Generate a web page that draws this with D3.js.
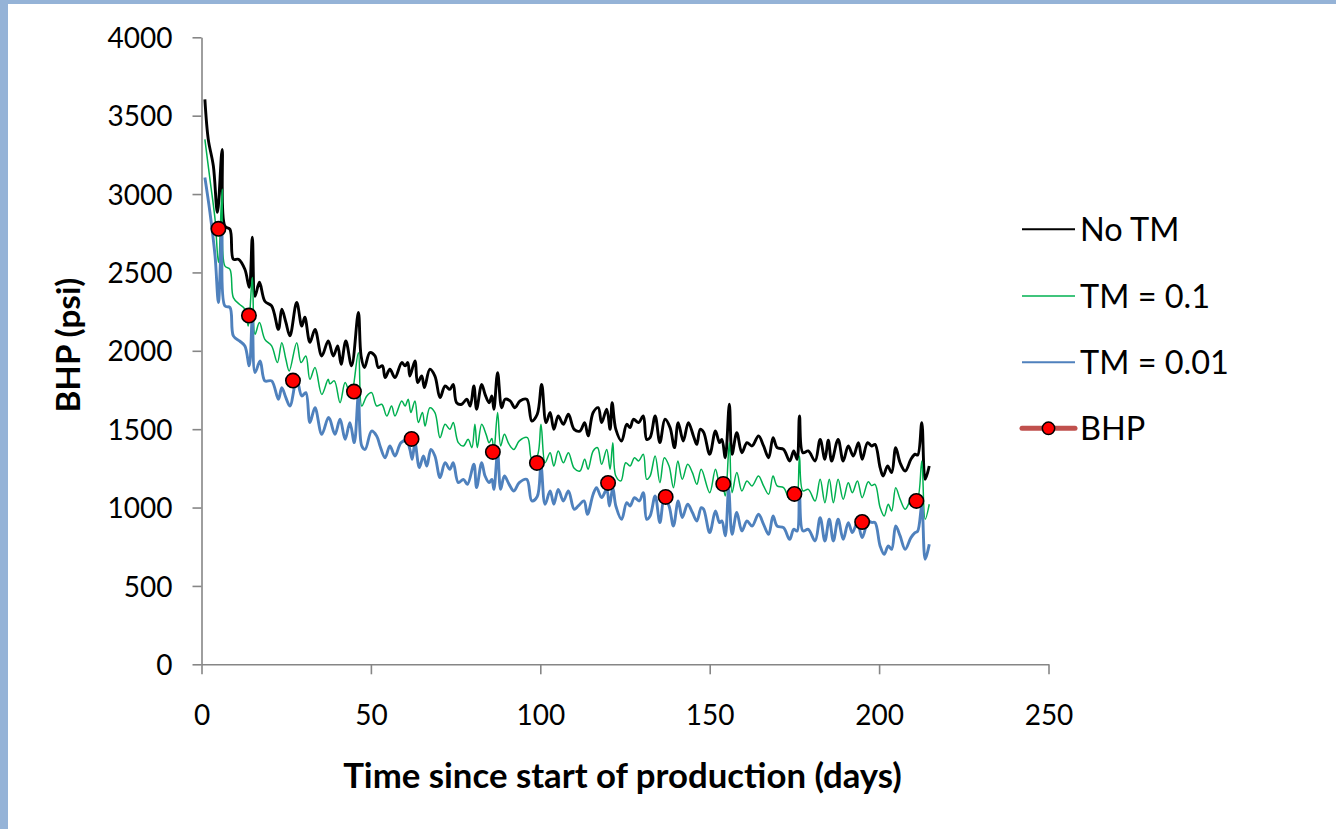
<!DOCTYPE html>
<html><head><meta charset="utf-8">
<script src="https://cdn.jsdelivr.net/npm/d3@7"></script>
<style>html,body{margin:0;padding:0;background:#fff;} svg{display:block;}</style>
</head><body>
<svg id="c" width="1336" height="829"></svg>
<script>
// ---------- data ----------
const xTicks = [0, 50, 100, 150, 200, 250];
const yTicks = [0, 500, 1000, 1500, 2000, 2500, 3000, 3500, 4000];
const seriesNames = ["No TM", "TM = 0.1", "TM = 0.01", "BHP"];
const xTitle = "Time since start of production (days)";
const yTitle = "BHP (psi)";

// [day, psi]
const noTM = [[1.0,3604],[2.0,3349],[3.5,3179],[4.7,2883],[6.1,3285],[6.9,2796],[8.4,2775],[9.4,2584],[10.9,2584],[12.8,2520],[14.1,2405],[15.0,2725],[15.8,2348],[17.1,2437],[18.7,2316],[20.7,2286],[22.7,2137],[23.7,2265],[24.9,2182],[26.1,2095],[28.1,2309],[29.6,2158],[30.5,2214],[32.0,2054],[33.5,2137],[35.5,1967],[37.4,2063],
[38.9,1967],[40.2,2031],[41.2,1914],[42.6,2063],[44.3,1904],[46.3,2244],[47.1,1967],[48.1,1893],[49.7,1988],[51.2,1967],[52.2,1893],[53.4,1904],[54.2,1829],[55.6,1882],[57.1,1829],[59.1,1925],[60.1,1904],[60.9,1925],[61.5,1839],[63.0,1935],[63.8,1797],[65.0,1839],[65.8,1765],[67.4,1882],[68.9,1839],[70.4,1701],[71.9,1776],[73.3,1754],
[74.3,1786],[75.3,1669],[76.8,1659],[78.3,1691],[79.3,1648],[80.4,1776],[81.2,1627],[82.7,1786],[83.7,1722],[84.9,1669],[85.7,1712],[86.3,1627],[87.4,1861],[88.6,1637],[89.6,1691],[91.1,1680],[92.5,1637],[94.0,1680],[96.0,1691],[97.5,1552],[99.1,1595],[100.4,1786],[101.7,1542],[102.9,1606],[104.0,1499],[105.3,1584],[106.8,1531],[108.3,1595],[110.0,1499],
[111.7,1488],[113.1,1542],[114.1,1457],[115.6,1606],[117.1,1637],[118.1,1542],[119.6,1627],[120.6,1499],[121.2,1669],[122.3,1499],[124.0,1425],[125.5,1531],[126.5,1510],[127.5,1563],[129.0,1542],[130.4,1584],[131.4,1435],[132.4,1446],[133.9,1584],[135.3,1414],[136.8,1563],[138.3,1510],[139.6,1382],[140.7,1542],[142.2,1425],[143.7,1542],[145.2,1457],[146.2,1403],[147.2,1499],
[148.2,1480],[150.0,1340],[151.7,1488],[152.9,1414],[153.6,1435],[154.6,1318],[155.8,1659],[156.6,1340],[158.0,1478],[159.5,1350],[161.0,1414],[162.5,1393],[164.4,1457],[165.9,1393],[167.4,1318],[168.7,1446],[169.9,1382],[171.8,1371],[173.6,1297],[174.8,1361],[175.8,1308],[176.5,1584],[177.5,1350],[179.1,1361],[181.1,1297],[182.6,1435],[184.0,1308],[185.0,1430],
[186.0,1297],[187.9,1435],[189.4,1297],[190.9,1393],[192.4,1329],[193.9,1414],[195.0,1308],[196.6,1414],[197.8,1393],[198.8,1403],[200.3,1255],[201.2,1201],[202.5,1265],[203.7,1223],[204.9,1382],[206.2,1286],[207.7,1233],[209.4,1308],[210.6,1340],[211.4,1335],[212.6,1542],[213.6,1180],[214.8,1265]];

const tm01 = [[1.0,3349],[2.5,3094],[4.0,2839],[5.0,2563],[6.1,3030],[6.9,2541],[8.4,2520],[9.4,2339],[11.2,2297],[12.8,2265],[13.8,2158],[15.0,2467],[15.8,2105],[17.1,2180],[18.7,2073],[20.7,2031],[22.4,1925],[23.7,2052],[24.9,1946],[25.9,1871],[28.1,2052],[29.4,1925],[30.8,1967],[32.0,1818],[33.5,1893],[35.5,1722],[37.4,1818],
[37.9,1790],[39.2,1808],[40.9,1669],[42.4,1797],[44.1,1712],[46.3,1988],[47.3,1648],[48.8,1712],[50.2,1733],[51.7,1648],[53.2,1659],[54.7,1584],[56.1,1648],[57.1,1584],[59.1,1680],[60.1,1648],[61.0,1691],[61.8,1606],[63.0,1680],[64.0,1542],[65.2,1606],[66.0,1520],[67.4,1637],[68.9,1606],[70.4,1446],[71.9,1531],[73.3,1499],[74.3,1542],
[75.8,1414],[77.3,1393],[78.7,1435],[79.8,1382],[80.7,1531],[81.4,1382],[82.7,1531],[84.0,1467],[84.9,1414],[85.7,1440],[86.3,1361],[87.4,1606],[88.3,1393],[89.4,1467],[90.8,1403],[92.2,1371],[93.8,1425],[96.2,1446],[97.5,1308],[99.1,1330],[100.2,1531],[101.4,1286],[102.9,1350],[104.0,1265],[105.3,1361],[106.8,1286],[108.3,1350],[110.0,1250],[111.7,1233],
[113.1,1308],[114.1,1244],[115.6,1361],[116.9,1382],[118.1,1276],[119.6,1371],[120.6,1244],[121.4,1414],[122.3,1201],[123.8,1170],[125.2,1286],[126.5,1265],[127.8,1318],[129.0,1297],[130.4,1340],[131.4,1180],[132.4,1201],[133.9,1329],[135.3,1159],[136.6,1318],[138.0,1265],[139.3,1127],[140.6,1297],[141.9,1180],[143.5,1276],[144.9,1223],[146.2,1148],[147.5,1244],
[150.0,1095],[151.7,1244],[152.9,1159],[153.6,1170],[154.6,1074],[155.8,1414],[156.6,1095],[158.0,1223],[159.5,1106],[161.0,1170],[162.5,1138],[164.4,1201],[165.9,1138],[167.4,1085],[168.7,1201],[169.9,1138],[171.8,1127],[173.6,1053],[174.8,1116],[175.8,1063],[176.5,1329],[177.5,1106],[179.1,1116],[181.1,1042],[182.6,1180],[184.0,1031],[185.3,1180],
[186.5,1031],[187.9,1180],[189.4,1053],[190.9,1159],[192.1,1095],[193.6,1170],[195.0,1063],[196.8,1164],[197.8,1140],[198.8,1148],[200.3,1000],[201.5,946],[202.7,1021],[203.7,978],[204.9,1127],[206.2,1053],[207.7,989],[209.4,1053],[210.6,1074],[211.4,1065],[212.6,1297],[213.6,925],[214.8,1021]];

const tm001 = [[1.0,3105],[2.5,2882],[4.0,2605],[5.0,2308],[6.0,2754],[6.9,2286],[8.4,2276],[9.4,2095],[11.2,2063],[12.8,2031],[14.1,1904],[15.0,2212],[15.8,1861],[17.3,1935],[18.7,1808],[20.7,1808],[22.7,1691],[23.7,1765],[24.9,1701],[26.1,1648],[28.1,1818],[29.6,1712],[30.8,1733],[32.0,1542],[33.5,1637],[35.5,1467],[37.4,1574],
[37.9,1563],[39.4,1467],[40.9,1563],[42.4,1435],[43.8,1542],[45.1,1414],[46.3,1712],[47.3,1393],[48.3,1371],[50.2,1488],[51.7,1457],[52.7,1393],[54.2,1318],[55.6,1393],[57.1,1329],[58.9,1414],[60.6,1425],[61.5,1371],[62.2,1308],[63.0,1414],[64.3,1255],[65.5,1329],[66.5,1265],[67.7,1371],[68.9,1329],[70.4,1191],[71.9,1286],[73.3,1244],[74.3,1286],
[75.8,1159],[77.3,1180],[78.5,1148],[80.4,1276],[81.2,1127],[82.7,1286],[83.7,1201],[84.9,1159],[85.7,1180],[86.3,1116],[87.4,1350],[88.3,1116],[89.4,1201],[90.8,1148],[92.2,1106],[93.8,1159],[96.0,1180],[97.5,1042],[99.1,1070],[100.2,1265],[101.4,1021],[102.9,1106],[104.0,1021],[105.3,1116],[106.8,1042],[108.3,1106],[110.0,989],[111.2,1010],
[112.9,1042],[113.9,957],[115.6,1085],[116.6,1127],[118.1,1063],[119.6,1116],[120.4,1010],[121.4,1127],[122.3,1010],[124.0,925],[125.5,1031],[126.5,1010],[127.8,1063],[129.2,1042],[130.4,1095],[131.4,925],[132.4,946],[133.9,1074],[135.3,904],[136.6,1063],[138.0,1010],[139.3,882],[140.7,1042],[141.9,936],[143.5,1021],[144.9,968],[146.2,914],[147.5,999],
[148.2,990],[150.0,840],[151.7,978],[152.9,904],[153.6,915],[154.6,819],[155.6,1116],[156.6,829],[158.0,968],[159.5,851],[161.0,914],[162.5,882],[164.4,957],[165.9,893],[167.4,829],[168.7,946],[169.9,882],[171.8,872],[173.6,797],[174.8,861],[175.8,850],[176.5,1074],[177.5,851],[179.1,861],[181.1,787],[182.6,936],[184.0,787],[185.3,925],
[186.5,787],[187.9,925],[189.4,797],[190.9,904],[192.1,840],[193.6,904],[195.0,808],[196.8,914],[197.8,905],[198.8,904],[200.3,755],[201.5,702],[202.7,755],[203.7,734],[204.9,882],[206.2,819],[207.7,734],[209.4,808],[210.6,840],[211.4,850],[212.6,1010],[213.6,670],[214.8,766]];

const bhpDays   = [5, 14, 27, 45, 62, 86, 99, 120, 137, 154, 175, 195, 211];
const bhpValues = [2778, 2225, 1810, 1740, 1438, 1355, 1285, 1157, 1068, 1151, 1087, 908, 1042];

// ---------- chart ----------
const FONT = "Lato, 'Open Sans', sans-serif";
const svg = d3.select("#c");
svg.append("rect").attr("x",0).attr("y",0).attr("width",1336).attr("height",829).attr("fill","#fff");
svg.append("rect").attr("x",0).attr("y",0).attr("width",1336).attr("height",4).attr("fill","#95b3d7");
svg.append("rect").attr("x",0).attr("y",0).attr("width",8).attr("height",829).attr("fill","#95b3d7");

const L = 201.5, R = 1048.5, T = 37.3, B = 664.3;
const x = d3.scaleLinear().domain([0, 250]).range([L, R]);
const y = d3.scaleLinear().domain([0, 4000]).range([B, T]);

const axisColor = "#868686";
const gy = svg.append("g").attr("transform", `translate(${L},0)`)
  .call(d3.axisLeft(y).tickValues(yTicks).tickSize(9).tickSizeOuter(0).tickPadding(20).tickFormat(d3.format("d")));
const gx = svg.append("g").attr("transform", `translate(0,${B})`)
  .call(d3.axisBottom(x).tickValues(xTicks).tickSize(10).tickSizeOuter(0).tickPadding(31).tickFormat(d3.format("d")));
[gx, gy].forEach(g => {
  g.select(".domain").attr("stroke", axisColor).attr("stroke-width", 1.6);
  g.selectAll(".tick line").attr("stroke", axisColor).attr("stroke-width", 1.6);
  g.selectAll(".tick text").attr("fill", "#000").style("font-family", FONT).style("font-size", "27px");
});
gy.selectAll(".tick text").attr("dy", "0.36em");
gx.selectAll(".tick text").attr("dy", "0.71em");

function fit(sel, target) {
  sel.style("font-size", "100px");
  const w = sel.node().getComputedTextLength();
  sel.style("font-size", (100 * target / w) + "px");
}
(function(){
  const t = svg.append("text").style("font-family", FONT).text("4000");
  fit(t, 65);
  const fs = t.style("font-size");
  t.remove();
  [gx, gy].forEach(g => g.selectAll(".tick text").style("font-size", fs));
})();

const line = d3.line().x(d => x(d[0])).y(d => y(d[1])).curve(d3.curveCatmullRom.alpha(0.5));
const plot = svg.append("g");
plot.append("path").datum(noTM).attr("d", line).attr("fill","none").attr("stroke","#000").attr("stroke-width",2.9).attr("stroke-linejoin","round");
plot.append("path").datum(tm01).attr("d", line).attr("fill","none").attr("stroke","#00b050").attr("stroke-width",1.5).attr("stroke-linejoin","round");
plot.append("path").datum(tm001).attr("d", line).attr("fill","none").attr("stroke","#4f81bd").attr("stroke-width",2.9).attr("stroke-linejoin","round");
plot.selectAll("circle.bhp").data(bhpDays.map((d,i)=>[d,bhpValues[i]])).enter().append("circle")
  .attr("class","bhp").attr("cx", d => x(d[0])).attr("cy", d => y(d[1])).attr("r", 7.2)
  .attr("fill","#ff0000").attr("stroke","#000").attr("stroke-width",1.6);

const xt = svg.append("text").attr("x", 622.5).attr("y", 788).attr("text-anchor","middle")
  .style("font-family", FONT).style("font-weight","bold").attr("fill","#000").text(xTitle);
fit(xt, 559);
const yt = svg.append("text").attr("transform","translate(80,345) rotate(-90)").attr("text-anchor","middle")
  .style("font-family", FONT).style("font-weight","bold").attr("fill","#000").text(yTitle);
fit(yt, 135);

const legY = [229.3, 296, 362.3, 428.3];
const legStyles = [
  {stroke:"#000", w:2},
  {stroke:"#00b050", w:1.4},
  {stroke:"#4f81bd", w:2},
  {stroke:"#c0504d", w:5, marker:true}
];
const probe = svg.append("text").style("font-family", FONT).text(seriesNames[2]);
fit(probe, 149);
const legFs = parseFloat(probe.style("font-size"));
probe.remove();
const leg = svg.append("g");
seriesNames.forEach((n, i) => {
  const s = legStyles[i];
  leg.append("line").attr("x1", 1022).attr("x2", 1075).attr("y1", legY[i]).attr("y2", legY[i])
    .attr("stroke", s.stroke).attr("stroke-width", s.w).attr("stroke-linecap", s.marker ? "round" : "butt");
  if (s.marker) leg.append("circle").attr("cx", 1048.5).attr("cy", legY[i]).attr("r", 6.2)
    .attr("fill","#ff0000").attr("stroke","#000").attr("stroke-width",1.5);
  leg.append("text").attr("x", 1080).attr("y", legY[i] + legFs*0.36)
    .style("font-family", FONT).style("font-size", legFs + "px").attr("fill","#000").text(n);
});
</script>
</body></html>
